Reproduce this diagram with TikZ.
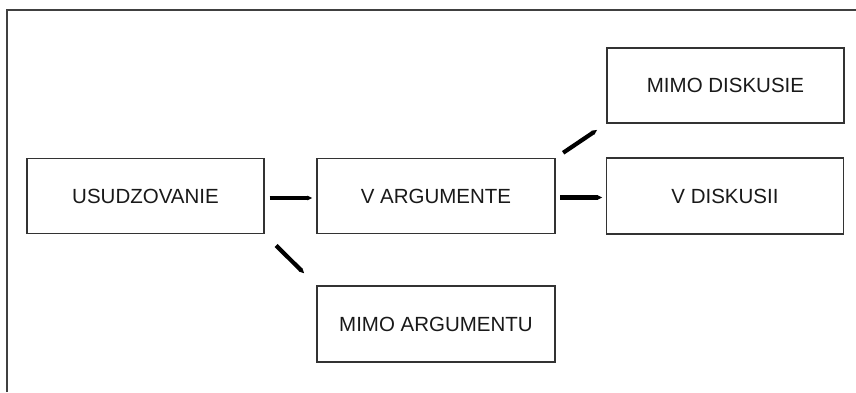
\documentclass[tikz,border=0pt]{standalone}
\usepackage{fontspec}
\setmainfont{Liberation Sans}
\usetikzlibrary{arrows.meta}
\begin{document}
\begin{tikzpicture}[x=1pt,y=-1pt,
  box/.style={draw=black!80, line width=1.4pt, minimum width=237pt, minimum height=75pt, inner sep=0pt, font=\fontsize{20.5}{24}\selectfont, text=black!90},
  arr/.style={line width=4.2pt, line cap=butt, -{Triangle[length=0pt 1.2, width=0pt 1.05]}}]
\useasboundingbox (0,0) rectangle (856,392);
\draw[line width=2pt, draw=black!75] (7,392) -- (7,10) -- (856,10);
\node[box] (u)  at (145.5,196) {USUDZOVANIE};
\node[box, minimum width=238pt] (va) at (436,196) {V ARGUMENTE};
\node[box, minimum width=238pt, minimum height=76pt] (ma) at (436,324) {MIMO ARGUMENTU};
\node[box] (md) at (725.5,85.5) {MIMO DISKUSIE};
\node[box, minimum height=76pt] (vd) at (725,196) {V DISKUSII};
\draw[arr, shorten <=5pt, shorten >=4pt] ([yshift=-2pt]u.east) -- ([yshift=-2pt]va.west);
\draw[arr, shorten <=16pt, shorten >=17pt] (u.south east) -- (ma.north west);
\draw[arr, shorten <=9pt, shorten >=11pt] (va.north east) -- (md.south west);
\draw[arr, shorten <=4.5pt, shorten >=3.5pt] ([yshift=-1.5pt]va.east) -- ([yshift=-1.5pt]vd.west);
\end{tikzpicture}
\end{document}
